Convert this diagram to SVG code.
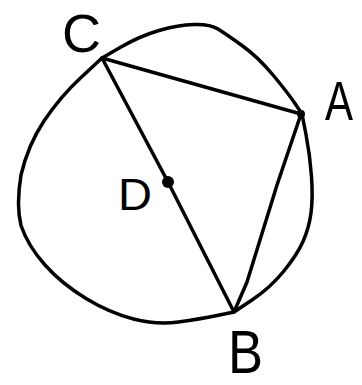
<svg xmlns="http://www.w3.org/2000/svg" width="362" height="385" viewBox="0 0 362 385">
<style>
.ln{fill:none;stroke:#000;stroke-width:3.5;stroke-linecap:round;stroke-linejoin:round}
.lb{font-family:"Liberation Sans",Arial,sans-serif;fill:#000}
</style>
<rect width="362" height="385" fill="#fff"/>
<g id="circle">
<path class="ln" d="M102,58 L121,47 Q140,36 159,30.5 Q178,25 194,24.5 Q210,24 218,29 Q226,34 242,45.5 Q258,57 273,75 Q288,93 295,103.5 L302,114 L306,134.5 Q310,155 311.5,176.5 Q313,198 311,213 Q309,228 303,241.5 Q297,255 283.5,271.5 Q270,288 252,300 L234,312 L217,315.5 Q200,319 178.5,322 Q157,325 133.5,319 Q110,313 86,298.5 Q62,284 45,265 Q28,246 21,225.5 Q16,205 21,175 Q28,145 44,121 Q60,97 81,77.5 Z"/>
</g>
<g id="connectors">
<path class="ln" d="M102,58 L301,114"/>
<path class="ln" d="M102,58 L168,182 L234,312"/>
<path class="ln" d="M301,114 L277,185 L247,282 L234,312"/>
</g>
<g id="node-C"><text class="lb" x="62" y="52" font-size="54">C</text></g>
<g id="node-A"><circle cx="301" cy="114" r="3" fill="none" stroke="#000" stroke-width="2"/><text class="lb" x="325" y="120" font-size="55" textLength="28" lengthAdjust="spacingAndGlyphs">A</text></g>
<g id="node-D"><circle cx="168" cy="182" r="6" fill="#000"/><text class="lb" x="118" y="210" font-size="44" textLength="34" lengthAdjust="spacingAndGlyphs">D</text></g>
<g id="node-B"><text class="lb" x="228" y="373" font-size="62" textLength="35" lengthAdjust="spacingAndGlyphs">B</text></g>
</svg>
